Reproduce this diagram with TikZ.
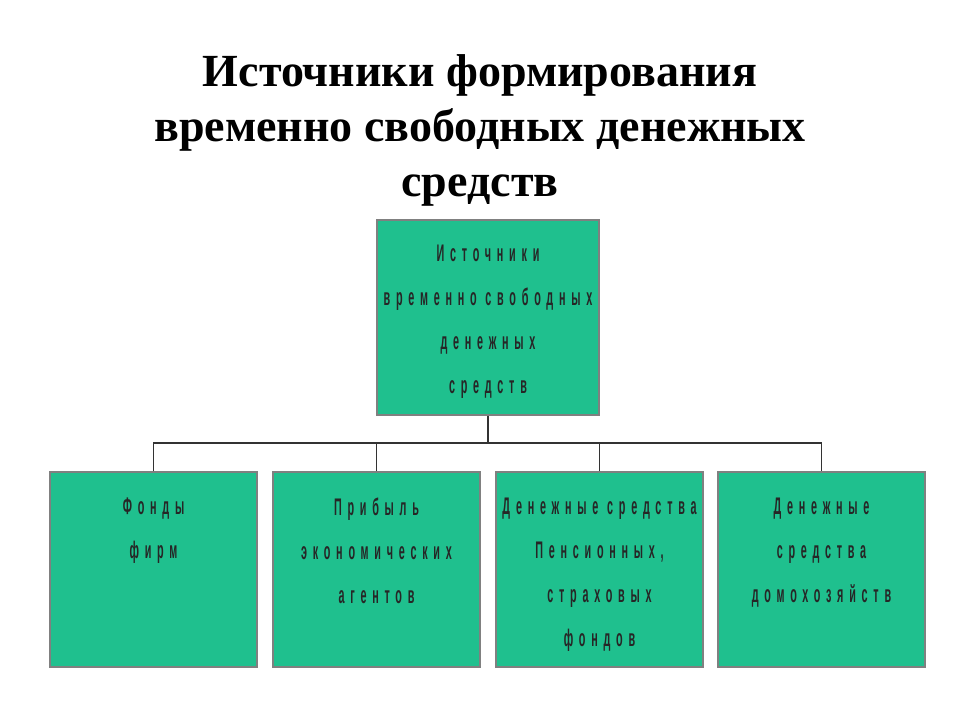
\documentclass[tikz,border=0pt]{standalone}
\usepackage{fontspec}
\setmainfont{Liberation Serif}
\newfontfamily\boxfont[FakeStretch=0.45,LetterSpace=24]{Liberation Sans}
\definecolor{gr}{HTML}{1FC08E}
\definecolor{bd}{HTML}{808080}
\begin{document}
\begin{tikzpicture}[x=1pt,y=-1pt,
  bx/.style={draw=bd,line width=1.5pt,fill=gr,minimum width=#1,minimum height=195pt,inner sep=0pt},
  bt/.style={font=\boxfont\fontsize{24}{44}\selectfont\bfseries,align=center,text=black!85},
  ln/.style={line width=1.2pt,draw=black!80}]
\useasboundingbox (0,0) rectangle (960,720);
\node[font=\fontsize{46}{55}\selectfont\bfseries,align=center] (title) at (480,130)
  {Источники формирования\\временно свободных денежных\\средств};
\node[bx=222pt] (top) at (488,317.5) {};
\node[bt,anchor=north] (tt) at (488,241) {Источники\\временно свободных\\денежных\\средств};
\foreach \n/\x in {a/153.5,b/376.5,c/599.5,d/821.5}{
  \node[bx=207pt] (\n) at (\x,569.5) {};
}
\node[bt,anchor=north] (ta) at (153.5,494) {Фонды\\фирм};
\node[bt,anchor=north] (tb) at (376.5,494) {Прибыль\\экономических\\агентов};
\node[bt,anchor=north] (tc) at (599.5,494) {Денежные средства\\Пенсионных,\\страховых\\фондов};
\node[bt,anchor=north] (td) at (821.5,494) {Денежные\\средства\\домохозяйств};
\coordinate (j) at (488,443);
\draw[ln] (top.south) -- (j);
\draw[ln] (a.north) |- (j) -| (d.north);
\draw[ln] (b.north) -- (b.north |- j);
\draw[ln] (c.north) -- (c.north |- j);
\end{tikzpicture}
\end{document}
